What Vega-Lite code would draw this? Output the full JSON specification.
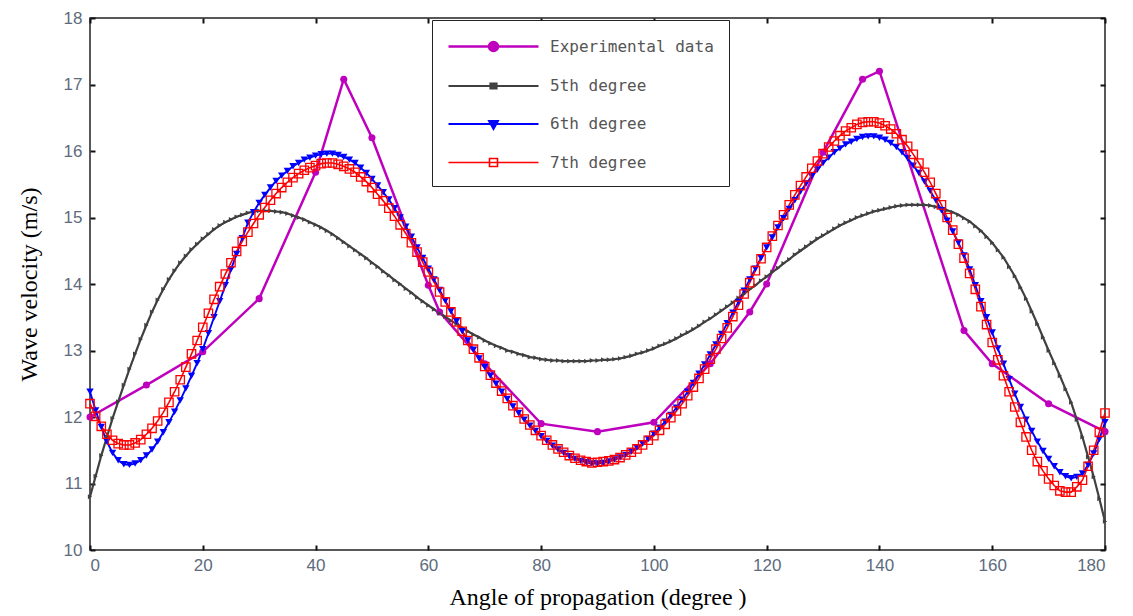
{
  "$schema": "https://vega.github.io/schema/vega-lite/v6.json",
  "width": 1015,
  "height": 532,
  "autosize": {"type": "none"},
  "padding": {"left": 90, "top": 18, "right": 28, "bottom": 66},
  "background": "white",
  "config": {
    "view": {"stroke": "#222", "strokeWidth": 1.5},
    "axis": {"grid": false, "domain": false, "tickColor": "#111", "tickWidth": 2, "tickSize": -5,
      "labelFont": "Liberation Sans", "labelFontSize": 17, "labelColor": "#5d6b7d",
      "titleFont": "Liberation Serif", "titleFontSize": 24, "titleFontWeight": "normal", "titleColor": "#000"}
  },
  "data": {"values": [
    {"x":0,"p5":10.80,"p6":12.38,"p7":12.20,"ex":12.0},
    {"x":1,"p5":11.11,"p6":12.10,"p7":12.01},
    {"x":2,"p5":11.42,"p6":11.85,"p7":11.86},
    {"x":3,"p5":11.70,"p6":11.63,"p7":11.74},
    {"x":4,"p5":11.98,"p6":11.46,"p7":11.65},
    {"x":5,"p5":12.23,"p6":11.35,"p7":11.60},
    {"x":6,"p5":12.48,"p6":11.29,"p7":11.58},
    {"x":7,"p5":12.72,"p6":11.28,"p7":11.58},
    {"x":8,"p5":12.95,"p6":11.30,"p7":11.61},
    {"x":9,"p5":13.17,"p6":11.35,"p7":11.66},
    {"x":10,"p5":13.38,"p6":11.42,"p7":11.74,"ex":12.48},
    {"x":11,"p5":13.58,"p6":11.51,"p7":11.83},
    {"x":12,"p5":13.76,"p6":11.63,"p7":11.94},
    {"x":13,"p5":13.92,"p6":11.77,"p7":12.07},
    {"x":14,"p5":14.07,"p6":11.92,"p7":12.22},
    {"x":15,"p5":14.20,"p6":12.08,"p7":12.38},
    {"x":16,"p5":14.32,"p6":12.25,"p7":12.56},
    {"x":17,"p5":14.42,"p6":12.43,"p7":12.75},
    {"x":18,"p5":14.52,"p6":12.62,"p7":12.95},
    {"x":19,"p5":14.60,"p6":12.81,"p7":13.15},
    {"x":20,"p5":14.68,"p6":13.02,"p7":13.35,"ex":12.98},
    {"x":21,"p5":14.75,"p6":13.26,"p7":13.56},
    {"x":22,"p5":14.82,"p6":13.50,"p7":13.77},
    {"x":23,"p5":14.88,"p6":13.74,"p7":13.96},
    {"x":24,"p5":14.93,"p6":13.98,"p7":14.15},
    {"x":25,"p5":14.97,"p6":14.22,"p7":14.32},
    {"x":26,"p5":15.01,"p6":14.45,"p7":14.49},
    {"x":27,"p5":15.04,"p6":14.69,"p7":14.64},
    {"x":28,"p5":15.07,"p6":14.92,"p7":14.78},
    {"x":29,"p5":15.09,"p6":15.08,"p7":14.91},
    {"x":30,"p5":15.10,"p6":15.22,"p7":15.04,"ex":13.78},
    {"x":31,"p5":15.10,"p6":15.34,"p7":15.15},
    {"x":32,"p5":15.10,"p6":15.45,"p7":15.26},
    {"x":33,"p5":15.09,"p6":15.55,"p7":15.36},
    {"x":34,"p5":15.08,"p6":15.63,"p7":15.45},
    {"x":35,"p5":15.06,"p6":15.70,"p7":15.53},
    {"x":36,"p5":15.03,"p6":15.77,"p7":15.60},
    {"x":37,"p5":15.00,"p6":15.82,"p7":15.66},
    {"x":38,"p5":14.97,"p6":15.87,"p7":15.71},
    {"x":39,"p5":14.93,"p6":15.90,"p7":15.75},
    {"x":40,"p5":14.89,"p6":15.93,"p7":15.78,"ex":15.68},
    {"x":41,"p5":14.85,"p6":15.95,"p7":15.81},
    {"x":42,"p5":14.80,"p6":15.96,"p7":15.82},
    {"x":43,"p5":14.75,"p6":15.96,"p7":15.82},
    {"x":44,"p5":14.69,"p6":15.94,"p7":15.80},
    {"x":45,"p5":14.63,"p6":15.91,"p7":15.77,"ex":17.08},
    {"x":46,"p5":14.57,"p6":15.87,"p7":15.73},
    {"x":47,"p5":14.51,"p6":15.82,"p7":15.68},
    {"x":48,"p5":14.45,"p6":15.75,"p7":15.61},
    {"x":49,"p5":14.39,"p6":15.67,"p7":15.54},
    {"x":50,"p5":14.32,"p6":15.58,"p7":15.45,"ex":16.2},
    {"x":51,"p5":14.26,"p6":15.48,"p7":15.35},
    {"x":52,"p5":14.19,"p6":15.38,"p7":15.25},
    {"x":53,"p5":14.13,"p6":15.27,"p7":15.14},
    {"x":54,"p5":14.06,"p6":15.14,"p7":15.02},
    {"x":55,"p5":14.00,"p6":15.00,"p7":14.89},
    {"x":56,"p5":13.93,"p6":14.86,"p7":14.76},
    {"x":57,"p5":13.87,"p6":14.71,"p7":14.62},
    {"x":58,"p5":13.80,"p6":14.55,"p7":14.48},
    {"x":59,"p5":13.74,"p6":14.39,"p7":14.33},
    {"x":60,"p5":13.68,"p6":14.23,"p7":14.18,"ex":13.98},
    {"x":61,"p5":13.62,"p6":14.07,"p7":14.03},
    {"x":62,"p5":13.56,"p6":13.91,"p7":13.88,"ex":13.58},
    {"x":63,"p5":13.51,"p6":13.75,"p7":13.73},
    {"x":64,"p5":13.45,"p6":13.59,"p7":13.58},
    {"x":65,"p5":13.40,"p6":13.44,"p7":13.43},
    {"x":66,"p5":13.34,"p6":13.29,"p7":13.29},
    {"x":67,"p5":13.29,"p6":13.15,"p7":13.15},
    {"x":68,"p5":13.24,"p6":13.01,"p7":13.02},
    {"x":69,"p5":13.20,"p6":12.88,"p7":12.89},
    {"x":70,"p5":13.15,"p6":12.75,"p7":12.76,"ex":12.8},
    {"x":71,"p5":13.11,"p6":12.62,"p7":12.63},
    {"x":72,"p5":13.07,"p6":12.50,"p7":12.51},
    {"x":73,"p5":13.04,"p6":12.38,"p7":12.39},
    {"x":74,"p5":13.00,"p6":12.27,"p7":12.28},
    {"x":75,"p5":12.98,"p6":12.16,"p7":12.17},
    {"x":76,"p5":12.95,"p6":12.06,"p7":12.07},
    {"x":77,"p5":12.93,"p6":11.96,"p7":11.97},
    {"x":78,"p5":12.90,"p6":11.87,"p7":11.88},
    {"x":79,"p5":12.89,"p6":11.79,"p7":11.80},
    {"x":80,"p5":12.87,"p6":11.71,"p7":11.72,"ex":11.9},
    {"x":81,"p5":12.86,"p6":11.64,"p7":11.65},
    {"x":82,"p5":12.85,"p6":11.57,"p7":11.58},
    {"x":83,"p5":12.85,"p6":11.51,"p7":11.52},
    {"x":84,"p5":12.84,"p6":11.46,"p7":11.47},
    {"x":85,"p5":12.84,"p6":11.41,"p7":11.42},
    {"x":86,"p5":12.84,"p6":11.37,"p7":11.38},
    {"x":87,"p5":12.84,"p6":11.34,"p7":11.35},
    {"x":88,"p5":12.84,"p6":11.32,"p7":11.33},
    {"x":89,"p5":12.85,"p6":11.30,"p7":11.31},
    {"x":90,"p5":12.85,"p6":11.30,"p7":11.32,"ex":11.78},
    {"x":91,"p5":12.86,"p6":11.31,"p7":11.33},
    {"x":92,"p5":12.86,"p6":11.33,"p7":11.34},
    {"x":93,"p5":12.87,"p6":11.36,"p7":11.36},
    {"x":94,"p5":12.88,"p6":11.39,"p7":11.39},
    {"x":95,"p5":12.90,"p6":11.43,"p7":11.43},
    {"x":96,"p5":12.92,"p6":11.48,"p7":11.47},
    {"x":97,"p5":12.95,"p6":11.54,"p7":11.52},
    {"x":98,"p5":12.97,"p6":11.60,"p7":11.58},
    {"x":99,"p5":13.00,"p6":11.67,"p7":11.65},
    {"x":100,"p5":13.03,"p6":11.75,"p7":11.72,"ex":11.92},
    {"x":101,"p5":13.07,"p6":11.84,"p7":11.80},
    {"x":102,"p5":13.10,"p6":11.93,"p7":11.89},
    {"x":103,"p5":13.14,"p6":12.03,"p7":11.99},
    {"x":104,"p5":13.18,"p6":12.14,"p7":12.09},
    {"x":105,"p5":13.23,"p6":12.26,"p7":12.20},
    {"x":106,"p5":13.27,"p6":12.38,"p7":12.32},
    {"x":107,"p5":13.32,"p6":12.51,"p7":12.45},
    {"x":108,"p5":13.37,"p6":12.65,"p7":12.58},
    {"x":109,"p5":13.43,"p6":12.79,"p7":12.72},
    {"x":110,"p5":13.48,"p6":12.94,"p7":12.87,"ex":12.8},
    {"x":111,"p5":13.54,"p6":13.09,"p7":13.02},
    {"x":112,"p5":13.60,"p6":13.25,"p7":13.18},
    {"x":113,"p5":13.66,"p6":13.41,"p7":13.34},
    {"x":114,"p5":13.72,"p6":13.57,"p7":13.51},
    {"x":115,"p5":13.79,"p6":13.73,"p7":13.68},
    {"x":116,"p5":13.85,"p6":13.90,"p7":13.85},
    {"x":117,"p5":13.92,"p6":14.07,"p7":14.02,"ex":13.58},
    {"x":118,"p5":13.98,"p6":14.23,"p7":14.20},
    {"x":119,"p5":14.05,"p6":14.39,"p7":14.38},
    {"x":120,"p5":14.11,"p6":14.55,"p7":14.55,"ex":14.0},
    {"x":121,"p5":14.18,"p6":14.70,"p7":14.72},
    {"x":122,"p5":14.24,"p6":14.85,"p7":14.88},
    {"x":123,"p5":14.31,"p6":14.99,"p7":15.04},
    {"x":124,"p5":14.37,"p6":15.13,"p7":15.19},
    {"x":125,"p5":14.44,"p6":15.26,"p7":15.34},
    {"x":126,"p5":14.50,"p6":15.39,"p7":15.48},
    {"x":127,"p5":14.56,"p6":15.51,"p7":15.61},
    {"x":128,"p5":14.62,"p6":15.62,"p7":15.74},
    {"x":129,"p5":14.68,"p6":15.72,"p7":15.85},
    {"x":130,"p5":14.73,"p6":15.82,"p7":15.96,"ex":15.98},
    {"x":131,"p5":14.78,"p6":15.90,"p7":16.06},
    {"x":132,"p5":14.83,"p6":15.98,"p7":16.15},
    {"x":133,"p5":14.88,"p6":16.04,"p7":16.23},
    {"x":134,"p5":14.92,"p6":16.10,"p7":16.30},
    {"x":135,"p5":14.96,"p6":16.14,"p7":16.35},
    {"x":136,"p5":15.00,"p6":16.18,"p7":16.40},
    {"x":137,"p5":15.03,"p6":16.21,"p7":16.43,"ex":17.08},
    {"x":138,"p5":15.06,"p6":16.22,"p7":16.44},
    {"x":139,"p5":15.09,"p6":16.22,"p7":16.44},
    {"x":140,"p5":15.11,"p6":16.20,"p7":16.42,"ex":17.2},
    {"x":141,"p5":15.13,"p6":16.17,"p7":16.38},
    {"x":142,"p5":15.15,"p6":16.12,"p7":16.33},
    {"x":143,"p5":15.17,"p6":16.06,"p7":16.26},
    {"x":144,"p5":15.18,"p6":15.98,"p7":16.17},
    {"x":145,"p5":15.19,"p6":15.89,"p7":16.07},
    {"x":146,"p5":15.19,"p6":15.78,"p7":15.95},
    {"x":147,"p5":15.19,"p6":15.67,"p7":15.82},
    {"x":148,"p5":15.19,"p6":15.54,"p7":15.68},
    {"x":149,"p5":15.18,"p6":15.40,"p7":15.53},
    {"x":150,"p5":15.16,"p6":15.26,"p7":15.36},
    {"x":151,"p5":15.14,"p6":15.11,"p7":15.19},
    {"x":152,"p5":15.11,"p6":14.95,"p7":15.00},
    {"x":153,"p5":15.08,"p6":14.79,"p7":14.81},
    {"x":154,"p5":15.04,"p6":14.62,"p7":14.60},
    {"x":155,"p5":14.99,"p6":14.43,"p7":14.39,"ex":13.3},
    {"x":156,"p5":14.94,"p6":14.22,"p7":14.16},
    {"x":157,"p5":14.87,"p6":13.98,"p7":13.92},
    {"x":158,"p5":14.80,"p6":13.74,"p7":13.66},
    {"x":159,"p5":14.71,"p6":13.50,"p7":13.39},
    {"x":160,"p5":14.62,"p6":13.27,"p7":13.12,"ex":12.8},
    {"x":161,"p5":14.51,"p6":13.03,"p7":12.86},
    {"x":162,"p5":14.40,"p6":12.80,"p7":12.62},
    {"x":163,"p5":14.26,"p6":12.57,"p7":12.38},
    {"x":164,"p5":14.12,"p6":12.35,"p7":12.15},
    {"x":165,"p5":13.95,"p6":12.15,"p7":11.92},
    {"x":166,"p5":13.78,"p6":11.96,"p7":11.70},
    {"x":167,"p5":13.59,"p6":11.79,"p7":11.50},
    {"x":168,"p5":13.40,"p6":11.63,"p7":11.33},
    {"x":169,"p5":13.20,"p6":11.49,"p7":11.19},
    {"x":170,"p5":13.00,"p6":11.37,"p7":11.07,"ex":12.2},
    {"x":171,"p5":12.81,"p6":11.26,"p7":10.97},
    {"x":172,"p5":12.62,"p6":11.17,"p7":10.89},
    {"x":173,"p5":12.42,"p6":11.11,"p7":10.87},
    {"x":174,"p5":12.22,"p6":11.08,"p7":10.87},
    {"x":175,"p5":11.96,"p6":11.10,"p7":10.95},
    {"x":176,"p5":11.70,"p6":11.15,"p7":11.05},
    {"x":177,"p5":11.40,"p6":11.28,"p7":11.26},
    {"x":178,"p5":11.10,"p6":11.45,"p7":11.50},
    {"x":179,"p5":10.77,"p6":11.67,"p7":11.77},
    {"x":180,"p5":10.43,"p6":11.92,"p7":12.06,"ex":11.78}
  ]},
  "transform": [
    {"fold": ["ex", "p5", "p6", "p7"], "as": ["series", "v"]},
    {"filter": "isValid(datum.v)"}
  ],
  "layer": [
    {
      "mark": {"type": "line"},
      "encoding": {
        "x": {"field": "x", "type": "quantitative", "scale": {"domain": [0, 180], "nice": false},
          "axis": {"orient": "bottom", "values": [0,20,40,60,80,100,120,140,160,180], "labelPadding": 12, "title": "Angle of propagation (degree )", "titlePadding": 12}},
        "y": {"field": "v", "type": "quantitative", "scale": {"domain": [10, 18], "nice": false, "zero": false},
          "axis": {"orient": "left", "values": [10,11,12,13,14,15,16,17,18], "labelPadding": 13, "title": "Wave velocity (m/s)", "titlePadding": 22}},
        "color": {"field": "series", "type": "nominal",
          "scale": {"domain": ["ex", "p5", "p6", "p7"], "range": ["#BE00BE", "#404040", "#0000FF", "#FF0000"]},
          "legend": {
            "orient": "none", "legendX": 342, "legendY": 2, "title": null,
            "strokeColor": "#222", "fillColor": "white", "padding": 15,
            "symbolType": "M-1,0L8,0", "symbolSize": 400, "labelOffset": 80, "rowPadding": 18.5,
            "labelFont": "DejaVu Sans Mono", "labelFontSize": 16, "labelColor": "#555", "labelLimit": 0,
            "labelExpr": "datum.label == 'ex' ? 'Experimental data\u00a0\u00a0\u00a0\u00a0\u00a0\u00a0' : datum.label == 'p5' ? '\u00a0\u00a05th degree' : datum.label == 'p6' ? '\u00a0\u00a06th degree' : '\u00a0\u00a07th degree'",
            "encode": {"symbols": {"update": {
              "shape": {"signal": "datum.value == 'ex' ? 'M-1,0L8,0M3.5,-0.45A0.45,0.45 0 1,1 3.5,0.45A0.45,0.45 0 1,1 3.5,-0.45Z' : datum.value == 'p5' ? 'M-1,0L8,0M3.2,-0.25L3.8,-0.25L3.8,0.25L3.2,0.25Z' : datum.value == 'p6' ? 'M-1,0L8,0M3.5,0.5L3.05,-0.3L3.95,-0.3Z' : 'M-1,0L8,0M3.1,-0.4L3.9,-0.4L3.9,0.4L3.1,0.4Z'"},
              "strokeWidth": {"signal": "datum.value == 'ex' ? 3.5 : 1.3"},
              "fill": {"signal": "datum.value == 'ex' ? '#BE00BE' : datum.value == 'p5' ? '#404040' : datum.value == 'p6' ? '#0000FF' : 'transparent'"},
              "stroke": {"signal": "datum.value == 'ex' ? '#BE00BE' : datum.value == 'p5' ? '#404040' : datum.value == 'p6' ? '#0000FF' : '#FF0000'"},
              "opacity": {"value": 1}
            }}}
          }},
        "strokeWidth": {"field": "series", "type": "nominal",
          "scale": {"domain": ["ex", "p5", "p6", "p7"], "range": [2.5, 1.6, 1, 1]}, "legend": null}
      }
    },
    {
      "transform": [{"filter": "datum.series == 'ex'"}],
      "mark": {"type": "point", "shape": "circle", "filled": true, "size": 50, "color": "#BE00BE", "opacity": 1},
      "encoding": {
        "x": {"field": "x", "type": "quantitative", "axis": null},
        "y": {"field": "v", "type": "quantitative", "axis": null}
      }
    },
    {
      "transform": [{"filter": "datum.series == 'p5'"}],
      "mark": {"type": "point", "shape": "triangle-right", "filled": true, "size": 24, "color": "#404040", "opacity": 1},
      "encoding": {
        "x": {"field": "x", "type": "quantitative", "axis": null},
        "y": {"field": "v", "type": "quantitative", "axis": null}
      }
    },
    {
      "transform": [{"filter": "datum.series == 'p6'"}],
      "mark": {"type": "point", "shape": "triangle-down", "filled": true, "size": 55, "color": "#0000FF", "opacity": 1},
      "encoding": {
        "x": {"field": "x", "type": "quantitative", "axis": null},
        "y": {"field": "v", "type": "quantitative", "axis": null}
      }
    },
    {
      "transform": [{"filter": "datum.series == 'p7'"}],
      "mark": {"type": "point", "shape": "square", "filled": false, "size": 70, "strokeWidth": 1.3, "color": "#FF0000", "opacity": 1},
      "encoding": {
        "x": {"field": "x", "type": "quantitative",
          "axis": {"orient": "top", "values": [0,20,40,60,80,100,120,140,160,180], "labels": false, "title": null}},
        "y": {"field": "v", "type": "quantitative",
          "axis": {"orient": "right", "values": [10,11,12,13,14,15,16,17,18], "labels": false, "title": null}}
      }
    }
  ],
  "resolve": {"axis": {"x": "independent", "y": "independent"}}
}
